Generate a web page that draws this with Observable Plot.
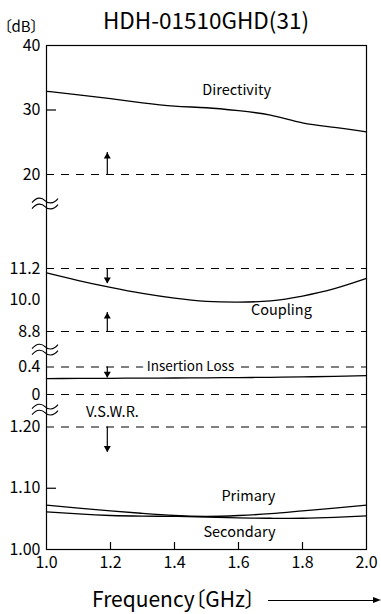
<!DOCTYPE html>
<html><head><meta charset="utf-8">
<script src="https://cdn.jsdelivr.net/npm/d3@7"></script>
<script src="https://cdn.jsdelivr.net/npm/@observablehq/plot@0.6"></script>
<style>
html,body{margin:0;padding:0;background:#fff;}
body{font-family:"Noto Sans CJK JP","Noto Sans",sans-serif;font-feature-settings:"palt";color:#000;}
#page{position:relative;width:381px;height:614px;overflow:hidden;background:#fff;}
#header{position:relative;height:38px;}
#unit{position:absolute;left:4px;top:26px;font-size:15px;line-height:0;white-space:nowrap;}
#title{position:absolute;left:46px;width:320px;top:19px;text-align:center;font-size:22.5px;line-height:0;white-space:nowrap;}
#chart{height:538px;}
#chart svg{display:block;}
#footer{position:relative;height:38px;}
#xlabel{position:absolute;left:92px;top:22px;font-size:21px;line-height:0;white-space:nowrap;}
#arrowline{position:absolute;left:268px;top:24px;width:106px;height:0;border-top:1.3px solid #000;}
#arrowhead{position:absolute;left:373px;top:21.2px;width:0;height:0;border-left:8px solid #000;border-top:3.5px solid transparent;border-bottom:3.5px solid transparent;}
</style></head>
<body>
<div id="page">
  <div id="header"><span id="unit">〔dB〕</span><div id="title">HDH-01510GHD(31)</div></div>
  <div id="chart"></div>
  <div id="footer"><span id="xlabel">Frequency〔GHz〕</span><div id="arrowline"></div><div id="arrowhead"></div></div>
</div>
<script>
// ---- data ----
const freq = [1.0, 1.1, 1.2, 1.3, 1.4, 1.5, 1.6, 1.7, 1.8, 1.9, 2.0];
const directivity = [32.9, 32.35, 31.75, 31.1, 30.6, 30.35, 29.9, 29.2, 28.0, 27.3, 26.6];
const coupling = [11.03, 10.74, 10.48, 10.25, 10.07, 9.95, 9.92, 9.97, 10.15, 10.43, 10.82];
const insertionLoss = [0.232, 0.234, 0.236, 0.238, 0.240, 0.243, 0.246, 0.250, 0.256, 0.264, 0.275];
const vswrPrimary = [1.0725, 1.0675, 1.063, 1.059, 1.0555, 1.054, 1.0555, 1.0585, 1.063, 1.0675, 1.0725];
const vswrSecondary = [1.0615, 1.058, 1.0555, 1.0545, 1.054, 1.053, 1.0515, 1.051, 1.051, 1.0525, 1.055];

const xTicks = [1.0, 1.2, 1.4, 1.6, 1.8, 2.0];
const xInnerTicks = [1.2, 1.4, 1.6, 1.8];

// y-axis tick labels, per section of the broken axis
const yTickSection = ["dB", "dB", "dB", "coupling", "coupling", "coupling", "loss", "loss", "vswr", "vswr", "vswr"];
const yTickValues = [40, 30, 20, 11.2, 10.0, 8.8, 0.4, 0, 1.20, 1.10, 1.00];
const yTickLabels = ["40", "30", "20", "11.2", "10.0", "8.8", "0.4", "0", "1.20", "1.10", "1.00"];

// dashed limit lines
const limitSection = ["dB", "coupling", "coupling", "loss", "loss", "vswr"];
const limitValues = [20, 11.2, 8.8, 0.4, 0, 1.20];

// short inner tick marks on the left edge
const innerTickSection = ["dB", "vswr"];
const innerTickValues = [30, 1.10];

// spec arrows
const arrowFreq = 1.19;
const arrowSection = ["dB", "coupling", "coupling", "loss", "vswr"];
const arrowFrom = [20, 11.2, 8.8, 0.4, 1.20];
const arrowTo = [23.4, 10.63, 9.52, 0.245, 1.159];

// curve labels
const labelText = ["Directivity", "Coupling", "Insertion Loss", "V.S.W.R.", "Primary", "Secondary"];
const labelSection = ["dB", "coupling", "loss", "vswr", "vswr", "vswr"];
const labelFreq = [1.594, 1.734, 1.45, 1.206, 1.631, 1.603];
const labelValue = [33.0, 9.61, 0.4, 1.224, 1.0865, 1.0278];

// axis break marks (value just below each section)
const breakSection = ["dB", "coupling", "loss"];
const breakValue = [15.5, 8.11, -0.22];

// ---- broken-axis layout: each section maps its values to a band of the frame ----
const FRAME_H = 504, FRAME_W = 320;
const sectionNames = ["dB", "coupling", "loss", "vswr"];
const sectionDomains = [[20, 40], [8.8, 11.2], [0, 0.4], [1.0, 1.2]];
const sectionBands = [[375, 504], [218, 281], [155, 182.5], [0, 122.5]];
const sectionScale = Object.fromEntries(sectionNames.map((n, i) => [n, d3.scaleLinear(sectionDomains[i], sectionBands[i])]));
const pos = (s, v) => sectionScale[s](v);

const yTickPos = yTickValues.map((v, i) => pos(yTickSection[i], v));
const tickLabelMap = new Map(yTickPos.map((p, i) => [p, yTickLabels[i]]));
const limitPos = limitValues.map((v, i) => pos(limitSection[i], v));
const innerPos = innerTickValues.map((v, i) => pos(innerTickSection[i], v));

const seriesNames = ["Directivity", "Coupling", "Insertion Loss", "Primary", "Secondary"];
const seriesSection = ["dB", "coupling", "loss", "vswr", "vswr"];
const seriesValues = [directivity, coupling, insertionLoss, vswrPrimary, vswrSecondary];
const lineRows = seriesValues.flatMap((vals, k) => vals.map((v, i) => ({name: seriesNames[k], f: freq[i], y: pos(seriesSection[k], v)})));

const arrows = arrowFrom.map((v, i) => ({f: arrowFreq, from: pos(arrowSection[i], v), to: pos(arrowSection[i], arrowTo[i])}));
const upArrows = arrows.filter(a => a.to > a.from);
const downArrows = arrows.filter(a => a.to < a.from);

const labels = labelText.map((t, i) => ({text: t, f: labelFreq[i], y: pos(labelSection[i], labelValue[i])}));
const breaks = breakValue.map((v, i) => ({y: pos(breakSection[i], v)}));

// axis-break glyph: two small waves (a custom dot symbol)
const breakSymbol = {
  draw(ctx) {
    for (const o of [-3, 3]) {
      ctx.moveTo(-13, o + 2);
      ctx.bezierCurveTo(-8, o - 4, -3, o - 3, 0, o);
      ctx.bezierCurveTo(3, o + 3, 8, o + 4, 13, o - 2);
    }
  }
};

const chart = Plot.plot({
  width: 381, height: 538,
  marginLeft: 46, marginRight: 15, marginTop: 7, marginBottom: 27,
  style: {fontFamily: '"Noto Sans CJK JP", "Noto Sans", sans-serif', fontSize: "16px", background: "white", color: "black", overflow: "visible"},
  x: {domain: [1, 2], ticks: xTicks, tickFormat: d3.format(".1f"), tickSize: 0, tickPadding: 7, label: null},
  y: {domain: [0, FRAME_H], ticks: yTickPos, tickFormat: d => tickLabelMap.get(d), tickSize: 0, tickPadding: 6, label: null},
  marks: [
    Plot.ruleY(limitPos, {strokeDasharray: "8,7", strokeWidth: 1}),
    Plot.ruleY(innerPos, {insetRight: FRAME_W - 10, strokeWidth: 1.2}),
    Plot.ruleX(xInnerTicks, {insetTop: FRAME_H - 7, strokeWidth: 1.2}),
    Plot.line(lineRows, {x: "f", y: "y", z: "name", curve: "natural", strokeWidth: 1.3}),
    Plot.ruleX(arrows, {x: "f", y1: "from", y2: "to", strokeWidth: 1.2}),
    Plot.dot(upArrows, {x: "f", y: "to", symbol: "triangle", r: 2.6, fill: "black", stroke: null, dy: 4}),
    Plot.dot(downArrows, {x: "f", y: "to", symbol: "triangle", r: 2.6, fill: "black", stroke: null, rotate: 180, dy: -4}),
    Plot.text(labels.filter(d => d.text === "Insertion Loss"), {x: "f", y: "y", text: "text", fontSize: 13.5, fill: "black", stroke: "white", strokeWidth: 10}),
    Plot.text(labels.filter(d => d.text !== "Insertion Loss"), {x: "f", y: "y", text: "text", fontSize: 14.5, fill: "black"}),
    Plot.dot(breaks, {frameAnchor: "left", y: "y", dx: -1.5, symbol: breakSymbol, r: 5, fill: "none", stroke: "black", strokeWidth: 1.1}),
    Plot.frame({strokeWidth: 1.2})
  ]
});
document.getElementById("chart").append(chart);
</script>
</body></html>
